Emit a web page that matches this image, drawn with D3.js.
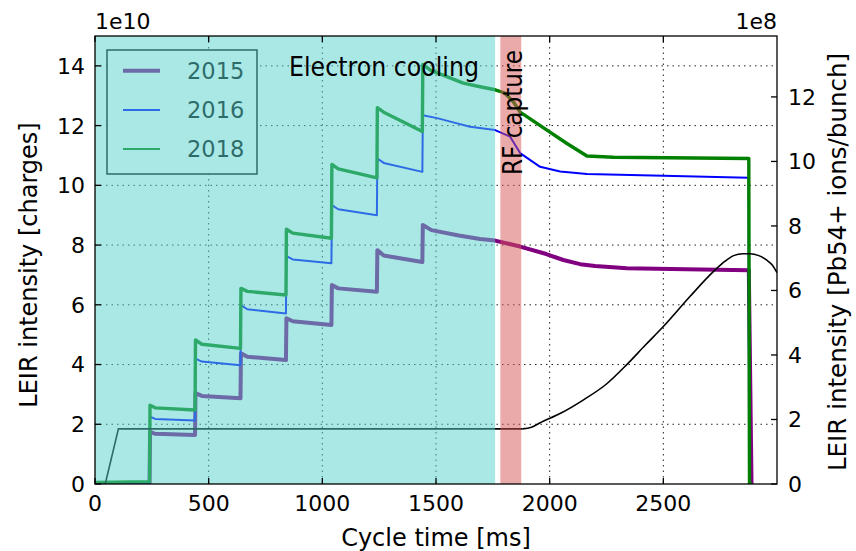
<!DOCTYPE html>
<html>
<head>
<meta charset="utf-8">
<script src="https://cdn.jsdelivr.net/npm/d3@7"></script>
<style>
  html, body { margin: 0; padding: 0; background: #fff; }
  svg { display: block; }
  text { font-family: "DejaVu Sans", sans-serif; }
</style>
</head>
<body>
<svg id="chart" width="856" height="551"></svg>
<script>
// ---- data: cycle time [ms] vs intensity ----
// left axis in units of 1e10 charges, right axis in units of 1e8 ions/bunch
const xTicks = [0, 500, 1000, 1500, 2000, 2500];
const yTicks = [0, 2, 4, 6, 8, 10, 12, 14];
const y2Ticks = [0, 2, 4, 6, 8, 10, 12];
const years = ["2015", "2016", "2018"];

const int2015 = [[0,0.02],[240,0.03],[242,1.75],[265,1.68],[440,1.64],[442,3.04],[470,2.95],[640,2.87],
  [642,4.38],[670,4.26],[840,4.15],[842,5.55],[870,5.45],[1040,5.32],[1042,6.66],[1070,6.55],[1240,6.44],
  [1242,7.83],[1270,7.65],[1440,7.43],[1442,8.67],[1480,8.5],[1600,8.32],[1694,8.2],[1760,8.15],
  [1870,7.95],[1985,7.7],[2060,7.5],[2134,7.36],[2200,7.3],[2339,7.22],[2600,7.19],[2876,7.16],[2888,0],[2895,0]];

const int2016 = [[0,0.03],[240,0.03],[242,2.25],[265,2.18],[440,2.13],[442,4.2],[470,4.1],[640,3.98],
  [642,5.99],[670,5.85],[840,5.71],[842,7.63],[870,7.52],[1040,7.39],[1042,9.34],[1070,9.2],[1240,9.0],
  [1242,10.9],[1270,10.75],[1440,10.45],[1442,12.35],[1505,12.25],[1580,12.1],[1650,11.96],[1760,11.85],
  [1826,11.63],[1870,11.08],[1958,10.62],[2046,10.46],[2164,10.38],[2500,10.32],[2875,10.25],[2877,0],[2890,0]];

const int2018 = [[0,0.05],[240,0.08],[242,2.64],[265,2.55],[440,2.48],[442,4.82],[470,4.68],[640,4.54],
  [642,6.55],[670,6.45],[840,6.33],[842,8.53],[870,8.4],[1040,8.23],[1042,10.7],[1070,10.55],[1240,10.25],
  [1242,12.6],[1270,12.45],[1440,11.8],[1442,14.05],[1475,13.86],[1620,13.42],[1694,13.3],[1760,13.2],
  [1800,13.1],[1840,12.8],[1870,12.45],[1988,11.85],[2076,11.4],[2164,10.98],[2280,10.94],[2876,10.9],[2879,0],[2890,0]];

// ions per bunch (right axis): injection plateau, then the ramp
const ionsPlateau = [[0,0],[45,0],[103,1.71],[1880,1.71]];
const ionsRamp = [[1880,1.71],[1920,1.76],[1958,1.9],[2050,2.2],[2149,2.61],
  [2250,3.1],[2339,3.7],[2420,4.3],[2501,4.89],[2618,5.82],[2721,6.59],[2770,6.9],[2809,7.08],[2850,7.14],
  [2882,7.14],[2920,7.08],[2955,6.94],[2980,6.78],[3000,6.55]];

// shaded phases [start, end] in ms
const coolingPhase = [0, 1760];
const capturePhase = [1783, 1875];

// ---- layout ----
const svg = d3.select("#chart");
const m = { left: 95, right: 777, top: 36, bottom: 484 };

const x = d3.scaleLinear().domain([0, 3000]).range([m.left, m.right]);
const y = d3.scaleLinear().domain([0, 15]).range([m.bottom, m.top]);
const y2 = d3.scaleLinear().domain([0, 15 / 1.08]).range([m.bottom, m.top]);

const colors = { "2015": "#800080", "2016": "#0000ff", "2018": "#008000" };
const widths = { "2015": 4, "2016": 2, "2018": 3.4 };
const seriesData = { "2015": int2015, "2016": int2016, "2018": int2018 };

svg.append("defs").append("clipPath").attr("id", "plotclip")
  .append("rect").attr("x", m.left).attr("y", m.top)
  .attr("width", m.right - m.left).attr("height", m.bottom - m.top);

// grid (dotted, from left axis and x axis)
const grid = svg.append("g").attr("stroke", "#222").attr("stroke-width", 1)
  .attr("stroke-dasharray", "1.5,4");
xTicks.filter(d => d > 0).forEach(t => {
  grid.append("line").attr("x1", x(t)).attr("x2", x(t)).attr("y1", m.top).attr("y2", m.bottom);
});
yTicks.filter(d => d > 0).forEach(t => {
  grid.append("line").attr("x1", m.left).attr("x2", m.right).attr("y1", y(t)).attr("y2", y(t));
});

// data lines
const plot = svg.append("g").attr("clip-path", "url(#plotclip)");
const line = d3.line().x(d => x(d[0])).y(d => y(d[1]));
const lineR = d3.line().x(d => x(d[0])).y(d => y2(d[1]));
const lineRsmooth = d3.line().x(d => x(d[0])).y(d => y2(d[1])).curve(d3.curveMonotoneX);

["2015", "2016", "2018"].forEach(k => {
  plot.append("path").datum(seriesData[k]).attr("d", line)
    .attr("fill", "none").attr("stroke", colors[k]).attr("stroke-width", widths[k])
    .attr("stroke-linejoin", "round");
});

plot.append("path").datum(ionsPlateau).attr("d", lineR)
  .attr("fill", "none").attr("stroke", "#000").attr("stroke-width", 1.6);
plot.append("path").datum(ionsRamp).attr("d", lineRsmooth)
  .attr("fill", "none").attr("stroke", "#000").attr("stroke-width", 1.6);

// legend
const lg = svg.append("g");
lg.append("rect").attr("x", 107).attr("y", 50).attr("width", 150).attr("height", 124)
  .attr("fill", "#fff").attr("stroke", "#000").attr("stroke-width", 1.5);
years.forEach((k, i) => {
  const cy = 70.7 + i * 39.2;
  lg.append("line").attr("x1", 123).attr("x2", 160).attr("y1", cy).attr("y2", cy)
    .attr("stroke", colors[k]).attr("stroke-width", k === "2015" ? 4 : 2);
  lg.append("text").attr("x", 187).attr("y", cy + 8.3).attr("font-size", 22.5)
    .attr("fill", "#000").text(k);
});

// translucent phase shading
svg.append("rect").attr("x", x(coolingPhase[0])).attr("y", m.top)
  .attr("width", x(coolingPhase[1]) - x(coolingPhase[0])).attr("height", m.bottom - m.top)
  .attr("fill", "rgb(88,210,206)").attr("fill-opacity", 0.51);
svg.append("rect").attr("x", x(capturePhase[0])).attr("y", m.top)
  .attr("width", x(capturePhase[1]) - x(capturePhase[0])).attr("height", m.bottom - m.top)
  .attr("fill", "rgb(215,85,85)").attr("fill-opacity", 0.5);

// frame and inward ticks
const frame = svg.append("g").attr("stroke", "#000").attr("stroke-width", 1.3);
frame.append("rect").attr("x", m.left).attr("y", m.top)
  .attr("width", m.right - m.left).attr("height", m.bottom - m.top).attr("fill", "none");
const TL = 6;
xTicks.forEach(t => {
  frame.append("line").attr("x1", x(t)).attr("x2", x(t)).attr("y1", m.bottom).attr("y2", m.bottom - TL);
  frame.append("line").attr("x1", x(t)).attr("x2", x(t)).attr("y1", m.top).attr("y2", m.top + TL);
});
yTicks.forEach(t => {
  frame.append("line").attr("x1", m.left).attr("x2", m.left + TL).attr("y1", y(t)).attr("y2", y(t));
});
y2Ticks.forEach(t => {
  frame.append("line").attr("x1", m.right).attr("x2", m.right - TL).attr("y1", y2(t)).attr("y2", y2(t));
});

// tick labels
const FS = 22;
const labels = svg.append("g").attr("font-size", FS).attr("fill", "#000");
xTicks.forEach(t => {
  labels.append("text").attr("x", x(t)).attr("y", 511).attr("text-anchor", "middle").text(t);
});
yTicks.forEach(t => {
  labels.append("text").attr("x", 85).attr("y", y(t)).attr("dy", "0.36em")
    .attr("text-anchor", "end").text(t);
});
y2Ticks.forEach(t => {
  labels.append("text").attr("x", 788).attr("y", y2(t)).attr("dy", "0.36em")
    .attr("text-anchor", "start").text(t);
});
labels.append("text").attr("x", m.left).attr("y", 29).text("1e10");
labels.append("text").attr("x", m.right).attr("y", 29).attr("text-anchor", "end").text("1e8");

// axis titles
svg.append("text").attr("x", (m.left + m.right) / 2).attr("y", 546)
  .attr("text-anchor", "middle").attr("font-size", 24).text("Cycle time [ms]");
svg.append("text").attr("transform", `translate(37,${(m.top + m.bottom) / 2 + 5}) rotate(-90)`)
  .attr("text-anchor", "middle").attr("font-size", 24).text("LEIR intensity [charges]");
svg.append("text").attr("transform", `translate(846,${(m.top + m.bottom) / 2 + 2}) rotate(-90)`)
  .attr("text-anchor", "middle").attr("font-size", 24.5).text("LEIR intensity [Pb54+ ions/bunch]");

// phase annotations
svg.append("text").attr("x", 289).attr("y", 76)
  .attr("font-family", "Carlito, Lato, sans-serif").attr("font-size", 26.5)
  .attr("textLength", 190).attr("lengthAdjust", "spacingAndGlyphs")
  .attr("fill", "#000").text("Electron cooling");
svg.append("text").attr("transform", "translate(522,175) rotate(-90)")
  .attr("font-family", "Carlito, Lato, sans-serif").attr("font-size", 26.5)
  .attr("textLength", 125).attr("lengthAdjust", "spacingAndGlyphs")
  .attr("fill", "#000").text("RF capture");
</script>
</body>
</html>
